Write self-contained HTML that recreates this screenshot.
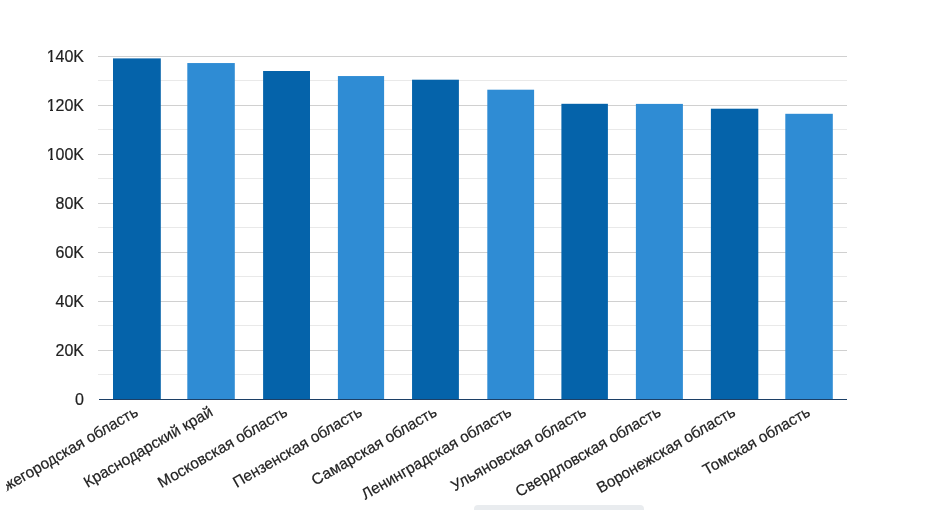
<!DOCTYPE html><html><head><meta charset="utf-8"><style>html,body{margin:0;padding:0;background:#fff;width:936px;height:510px;overflow:hidden}svg{display:block;will-change:transform}text{font-family:"Liberation Sans",sans-serif;stroke:#222;stroke-width:0.2px}</style></head><body>
<svg width="936" height="510" viewBox="0 0 936 510">
<rect width="936" height="510" fill="#fff"/>
<rect x="98" y="80" width="749" height="1" fill="#e9e9e9"/>
<rect x="98" y="129" width="749" height="1" fill="#e9e9e9"/>
<rect x="98" y="178" width="749" height="1" fill="#e9e9e9"/>
<rect x="98" y="227" width="749" height="1" fill="#e9e9e9"/>
<rect x="98" y="276" width="749" height="1" fill="#e9e9e9"/>
<rect x="98" y="325" width="749" height="1" fill="#e9e9e9"/>
<rect x="98" y="374" width="749" height="1" fill="#e9e9e9"/>
<rect x="98" y="56" width="749" height="1" fill="#d0d0d0"/>
<rect x="98" y="105" width="749" height="1" fill="#d0d0d0"/>
<rect x="98" y="154" width="749" height="1" fill="#d0d0d0"/>
<rect x="98" y="203" width="749" height="1" fill="#d0d0d0"/>
<rect x="98" y="252" width="749" height="1" fill="#d0d0d0"/>
<rect x="98" y="301" width="749" height="1" fill="#d0d0d0"/>
<rect x="98" y="350" width="749" height="1" fill="#d0d0d0"/>
<rect x="113.00" y="58.4" width="47.80" height="340.6" fill="#0563aa"/>
<rect x="187.30" y="63.05" width="47.50" height="335.95" fill="#2f8cd4"/>
<rect x="263.10" y="71.0" width="46.90" height="328.0" fill="#0563aa"/>
<rect x="337.90" y="76.05" width="46.20" height="322.95" fill="#2f8cd4"/>
<rect x="412.05" y="79.7" width="46.85" height="319.3" fill="#0563aa"/>
<rect x="487.30" y="89.7" width="46.80" height="309.3" fill="#2f8cd4"/>
<rect x="561.40" y="103.8" width="46.50" height="295.2" fill="#0563aa"/>
<rect x="635.90" y="103.9" width="47.00" height="295.1" fill="#2f8cd4"/>
<rect x="710.90" y="108.7" width="47.40" height="290.3" fill="#0563aa"/>
<rect x="785.30" y="113.8" width="47.50" height="285.2" fill="#2f8cd4"/>
<rect x="99" y="399" width="748" height="1" fill="#1c3f66"/>
<text x="84" y="62" font-size="16" fill="#222222" text-anchor="end">140K</text>
<rect x="46.5" y="60" width="3.5" height="2.2" fill="#fff"/><rect x="53" y="60" width="2" height="2.2" fill="#fff"/>
<text x="84" y="111" font-size="16" fill="#222222" text-anchor="end">120K</text>
<rect x="46.5" y="109" width="3.5" height="2.2" fill="#fff"/><rect x="53" y="109" width="2" height="2.2" fill="#fff"/>
<text x="84" y="160" font-size="16" fill="#222222" text-anchor="end">100K</text>
<rect x="46.5" y="158" width="3.5" height="2.2" fill="#fff"/><rect x="53" y="158" width="2" height="2.2" fill="#fff"/>
<text x="84" y="209" font-size="16" fill="#222222" text-anchor="end">80K</text>
<text x="84" y="258" font-size="16" fill="#222222" text-anchor="end">60K</text>
<text x="84" y="307" font-size="16" fill="#222222" text-anchor="end">40K</text>
<text x="84" y="356" font-size="16" fill="#222222" text-anchor="end">20K</text>
<text x="84" y="405" font-size="16" fill="#222222" text-anchor="end">0</text>
<defs><clipPath id="cl"><rect x="6" y="0" width="930" height="510"/></clipPath></defs><g clip-path="url(#cl)">
<text x="139.2" y="414.9" font-size="15.5" fill="#222222" stroke-width="0.45" text-anchor="end" transform="rotate(-30 139.2 414.9)">Нижегородская область</text>
<text x="213.9" y="414.9" font-size="15.5" fill="#222222" stroke-width="0.45" text-anchor="end" transform="rotate(-30 213.9 414.9)">Краснодарский край</text>
<text x="288.6" y="414.9" font-size="15.5" fill="#222222" stroke-width="0.45" text-anchor="end" transform="rotate(-30 288.6 414.9)">Московская область</text>
<text x="363.2" y="414.9" font-size="15.5" fill="#222222" stroke-width="0.45" text-anchor="end" transform="rotate(-30 363.2 414.9)">Пензенская область</text>
<text x="437.9" y="414.9" font-size="15.5" fill="#222222" stroke-width="0.45" text-anchor="end" transform="rotate(-30 437.9 414.9)">Самарская область</text>
<text x="512.6" y="414.9" font-size="15.5" fill="#222222" stroke-width="0.45" text-anchor="end" transform="rotate(-30 512.6 414.9)">Ленинградская область</text>
<text x="587.3" y="414.9" font-size="15.5" fill="#222222" stroke-width="0.45" text-anchor="end" transform="rotate(-30 587.3 414.9)">Ульяновская область</text>
<text x="661.9" y="414.9" font-size="15.5" fill="#222222" stroke-width="0.45" text-anchor="end" transform="rotate(-30 661.9 414.9)">Свердловская область</text>
<text x="736.6" y="414.9" font-size="15.5" fill="#222222" stroke-width="0.45" text-anchor="end" transform="rotate(-30 736.6 414.9)">Воронежская область</text>
<text x="811.3" y="414.9" font-size="15.5" fill="#222222" stroke-width="0.45" text-anchor="end" transform="rotate(-30 811.3 414.9)">Томская область</text>
</g>
<rect x="474" y="505" width="170" height="10" rx="4" fill="#e9ecef"/>
</svg></body></html>
